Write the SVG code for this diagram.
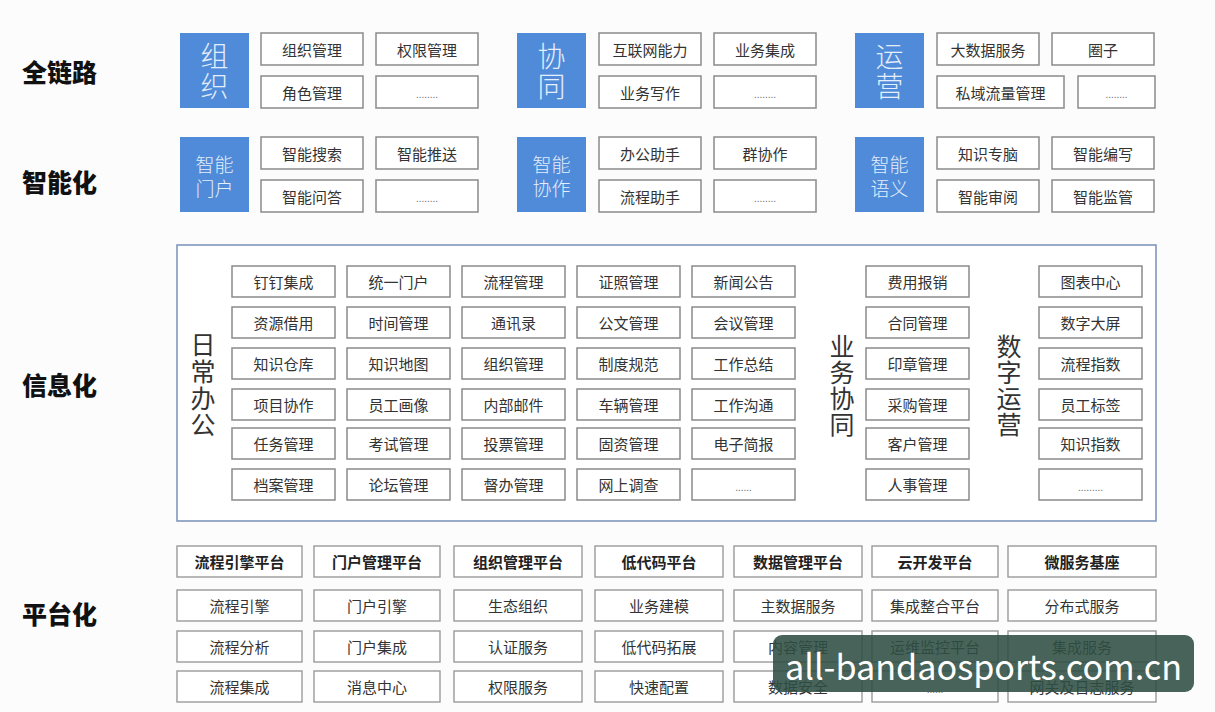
<svg xmlns="http://www.w3.org/2000/svg" width="1215" height="712" viewBox="0 0 1215 712">
<style>
text{font-family:"Noto Sans CJK SC","Noto Sans",sans-serif;text-anchor:middle;dominant-baseline:central}
.lbl{font-size:25px;font-weight:900;fill:#111;text-anchor:start}
.blue{fill:#4f8bd8}
.bt1{font-size:28px;fill:#e4eefc;font-weight:300}
.bt2{font-size:19px;fill:#e4eefc;font-weight:300}
.box{fill:#fff;stroke:#8a8a8a;stroke-width:1.5}
.pbox{fill:#fff;stroke:#9a9a9a;stroke-width:1.4}
.t{font-size:15px;fill:#333}
.tb{font-size:15px;fill:#222;font-weight:700}
.dots{font-size:10px;fill:#777}
.vt{font-size:25px;fill:#333}
.frame{fill:#fff;stroke:#8196bd;stroke-width:1.6}
</style>
<rect width="1215" height="712" fill="#fcfcfc"/>
<g id="labels">
<text class="lbl" x="22" y="71">全链路</text>
<text class="lbl" x="22" y="181">智能化</text>
<text class="lbl" x="22" y="384">信息化</text>
<text class="lbl" x="22" y="613">平台化</text>
</g>
<g id="connectors"></g>
<!-- 全链路 -->
<g id="zuzhi">
<rect class="blue" x="180" y="33" width="69" height="75"/>
<text class="bt1" x="214.5" y="55">组</text><text class="bt1" x="214.5" y="85">织</text>
<rect class="box" x="261" y="33" width="102" height="32"/><text class="t" x="312" y="49">组织管理</text>
<rect class="box" x="376" y="33" width="102" height="32"/><text class="t" x="427" y="49">权限管理</text>
<rect class="box" x="261" y="76" width="102" height="32"/><text class="t" x="312" y="92">角色管理</text>
<rect class="box" x="376" y="76" width="102" height="32"/><text class="dots" x="427" y="93">........</text>
</g>
<g id="xietong">
<rect class="blue" x="517" y="33" width="69" height="75"/>
<text class="bt1" x="551.5" y="55">协</text><text class="bt1" x="551.5" y="85">同</text>
<rect class="box" x="599" y="33" width="102" height="32"/><text class="t" x="650" y="49">互联网能力</text>
<rect class="box" x="714" y="33" width="102" height="32"/><text class="t" x="765" y="49">业务集成</text>
<rect class="box" x="599" y="76" width="102" height="32"/><text class="t" x="650" y="92">业务写作</text>
<rect class="box" x="714" y="76" width="102" height="32"/><text class="dots" x="765" y="93">........</text>
</g>
<g id="yunying">
<rect class="blue" x="855" y="33" width="69" height="75"/>
<text class="bt1" x="889.5" y="55">运</text><text class="bt1" x="889.5" y="85">营</text>
<rect class="box" x="937" y="33" width="102" height="32"/><text class="t" x="988" y="49">大数据服务</text>
<rect class="box" x="1052" y="33" width="102" height="32"/><text class="t" x="1103" y="49">圈子</text>
<rect class="box" x="937" y="76" width="127" height="32"/><text class="t" x="1000.5" y="92">私域流量管理</text>
<rect class="box" x="1078" y="76" width="77" height="32"/><text class="dots" x="1116.5" y="93">........</text>
</g>
<!-- 智能化 -->
<g id="zhinengmenhu">
<rect class="blue" x="180" y="137" width="69" height="75"/>
<text class="bt2" x="214.5" y="163">智能</text><text class="bt2" x="214.5" y="187">门户</text>
<rect class="box" x="261" y="137" width="102" height="32"/><text class="t" x="312" y="153">智能搜索</text>
<rect class="box" x="376" y="137" width="102" height="32"/><text class="t" x="427" y="153">智能推送</text>
<rect class="box" x="261" y="180" width="102" height="32"/><text class="t" x="312" y="196">智能问答</text>
<rect class="box" x="376" y="180" width="102" height="32"/><text class="dots" x="427" y="197">........</text>
</g>
<g id="zhinengxiezuo">
<rect class="blue" x="517" y="137" width="69" height="75"/>
<text class="bt2" x="551.5" y="163">智能</text><text class="bt2" x="551.5" y="187">协作</text>
<rect class="box" x="599" y="137" width="102" height="32"/><text class="t" x="650" y="153">办公助手</text>
<rect class="box" x="714" y="137" width="102" height="32"/><text class="t" x="765" y="153">群协作</text>
<rect class="box" x="599" y="180" width="102" height="32"/><text class="t" x="650" y="196">流程助手</text>
<rect class="box" x="714" y="180" width="102" height="32"/><text class="dots" x="765" y="197">........</text>
</g>
<g id="zhinengyuyi">
<rect class="blue" x="855" y="137" width="69" height="75"/>
<text class="bt2" x="889.5" y="163">智能</text><text class="bt2" x="889.5" y="187">语义</text>
<rect class="box" x="937" y="137" width="102" height="32"/><text class="t" x="988" y="153">知识专脑</text>
<rect class="box" x="1052" y="137" width="102" height="32"/><text class="t" x="1103" y="153">智能编写</text>
<rect class="box" x="937" y="180" width="102" height="32"/><text class="t" x="988" y="196">智能审阅</text>
<rect class="box" x="1052" y="180" width="102" height="32"/><text class="t" x="1103" y="196">智能监管</text>
</g>
<!-- 信息化 -->
<g id="xinxihua">
<rect class="frame" x="177" y="245" width="979" height="276"/>
<g id="richangbangong">
<text class="vt" x="203" y="343">日</text><text class="vt" x="203" y="370">常</text><text class="vt" x="203" y="397">办</text><text class="vt" x="203" y="423">公</text>
<rect class="box" x="232" y="266" width="103" height="31"/><text class="t" x="283.5" y="281.5">钉钉集成</text>
<rect class="box" x="347" y="266" width="103" height="31"/><text class="t" x="398.5" y="281.5">统一门户</text>
<rect class="box" x="462" y="266" width="103" height="31"/><text class="t" x="513.5" y="281.5">流程管理</text>
<rect class="box" x="577" y="266" width="103" height="31"/><text class="t" x="628.5" y="281.5">证照管理</text>
<rect class="box" x="692" y="266" width="103" height="31"/><text class="t" x="743.5" y="281.5">新闻公告</text>
<rect class="box" x="232" y="307" width="103" height="31"/><text class="t" x="283.5" y="322.5">资源借用</text>
<rect class="box" x="347" y="307" width="103" height="31"/><text class="t" x="398.5" y="322.5">时间管理</text>
<rect class="box" x="462" y="307" width="103" height="31"/><text class="t" x="513.5" y="322.5">通讯录</text>
<rect class="box" x="577" y="307" width="103" height="31"/><text class="t" x="628.5" y="322.5">公文管理</text>
<rect class="box" x="692" y="307" width="103" height="31"/><text class="t" x="743.5" y="322.5">会议管理</text>
<rect class="box" x="232" y="348" width="103" height="31"/><text class="t" x="283.5" y="363.5">知识仓库</text>
<rect class="box" x="347" y="348" width="103" height="31"/><text class="t" x="398.5" y="363.5">知识地图</text>
<rect class="box" x="462" y="348" width="103" height="31"/><text class="t" x="513.5" y="363.5">组织管理</text>
<rect class="box" x="577" y="348" width="103" height="31"/><text class="t" x="628.5" y="363.5">制度规范</text>
<rect class="box" x="692" y="348" width="103" height="31"/><text class="t" x="743.5" y="363.5">工作总结</text>
<rect class="box" x="232" y="389" width="103" height="31"/><text class="t" x="283.5" y="404.5">项目协作</text>
<rect class="box" x="347" y="389" width="103" height="31"/><text class="t" x="398.5" y="404.5">员工画像</text>
<rect class="box" x="462" y="389" width="103" height="31"/><text class="t" x="513.5" y="404.5">内部邮件</text>
<rect class="box" x="577" y="389" width="103" height="31"/><text class="t" x="628.5" y="404.5">车辆管理</text>
<rect class="box" x="692" y="389" width="103" height="31"/><text class="t" x="743.5" y="404.5">工作沟通</text>
<rect class="box" x="232" y="428" width="103" height="31"/><text class="t" x="283.5" y="443.5">任务管理</text>
<rect class="box" x="347" y="428" width="103" height="31"/><text class="t" x="398.5" y="443.5">考试管理</text>
<rect class="box" x="462" y="428" width="103" height="31"/><text class="t" x="513.5" y="443.5">投票管理</text>
<rect class="box" x="577" y="428" width="103" height="31"/><text class="t" x="628.5" y="443.5">固资管理</text>
<rect class="box" x="692" y="428" width="103" height="31"/><text class="t" x="743.5" y="443.5">电子简报</text>
<rect class="box" x="232" y="469" width="103" height="31"/><text class="t" x="283.5" y="484.5">档案管理</text>
<rect class="box" x="347" y="469" width="103" height="31"/><text class="t" x="398.5" y="484.5">论坛管理</text>
<rect class="box" x="462" y="469" width="103" height="31"/><text class="t" x="513.5" y="484.5">督办管理</text>
<rect class="box" x="577" y="469" width="103" height="31"/><text class="t" x="628.5" y="484.5">网上调查</text>
<rect class="box" x="692" y="469" width="103" height="31"/><text class="dots" x="743.5" y="486">......</text>
</g>
<g id="yewuxietong">
<text class="vt" x="842" y="345">业</text><text class="vt" x="842" y="371">务</text><text class="vt" x="842" y="397">协</text><text class="vt" x="842" y="423">同</text>
<rect class="box" x="866" y="266" width="103" height="31"/><text class="t" x="917.5" y="281.5">费用报销</text>
<rect class="box" x="866" y="307" width="103" height="31"/><text class="t" x="917.5" y="322.5">合同管理</text>
<rect class="box" x="866" y="348" width="103" height="31"/><text class="t" x="917.5" y="363.5">印章管理</text>
<rect class="box" x="866" y="389" width="103" height="31"/><text class="t" x="917.5" y="404.5">采购管理</text>
<rect class="box" x="866" y="428" width="103" height="31"/><text class="t" x="917.5" y="443.5">客户管理</text>
<rect class="box" x="866" y="469" width="103" height="31"/><text class="t" x="917.5" y="484.5">人事管理</text>
</g>
<g id="shuziyunying">
<text class="vt" x="1009" y="345">数</text><text class="vt" x="1009" y="371">字</text><text class="vt" x="1009" y="397">运</text><text class="vt" x="1009" y="423">营</text>
<rect class="box" x="1039" y="266" width="103" height="31"/><text class="t" x="1090.5" y="281.5">图表中心</text>
<rect class="box" x="1039" y="307" width="103" height="31"/><text class="t" x="1090.5" y="322.5">数字大屏</text>
<rect class="box" x="1039" y="348" width="103" height="31"/><text class="t" x="1090.5" y="363.5">流程指数</text>
<rect class="box" x="1039" y="389" width="103" height="31"/><text class="t" x="1090.5" y="404.5">员工标签</text>
<rect class="box" x="1039" y="428" width="103" height="31"/><text class="t" x="1090.5" y="443.5">知识指数</text>
<rect class="box" x="1039" y="469" width="103" height="31"/><text class="dots" x="1090.5" y="486">.........</text>
</g>
</g>
<!-- 平台化 -->
<g id="pingtaihua">
<g id="liucheng">
<rect class="pbox" x="177" y="546" width="125" height="31"/><text class="tb" x="239.5" y="561.5">流程引擎平台</text>
<rect class="pbox" x="177" y="590" width="125" height="31"/><text class="t" x="239.5" y="605.5">流程引擎</text>
<rect class="pbox" x="177" y="631" width="125" height="31"/><text class="t" x="239.5" y="646.5">流程分析</text>
<rect class="pbox" x="177" y="671" width="125" height="31"/><text class="t" x="239.5" y="686.5">流程集成</text>
</g>
<g id="menhu">
<rect class="pbox" x="314" y="546" width="126" height="31"/><text class="tb" x="377" y="561.5">门户管理平台</text>
<rect class="pbox" x="314" y="590" width="126" height="31"/><text class="t" x="377" y="605.5">门户引擎</text>
<rect class="pbox" x="314" y="631" width="126" height="31"/><text class="t" x="377" y="646.5">门户集成</text>
<rect class="pbox" x="314" y="671" width="126" height="31"/><text class="t" x="377" y="686.5">消息中心</text>
</g>
<g id="zuzhiguanli">
<rect class="pbox" x="454" y="546" width="128" height="31"/><text class="tb" x="518" y="561.5">组织管理平台</text>
<rect class="pbox" x="454" y="590" width="128" height="31"/><text class="t" x="518" y="605.5">生态组织</text>
<rect class="pbox" x="454" y="631" width="128" height="31"/><text class="t" x="518" y="646.5">认证服务</text>
<rect class="pbox" x="454" y="671" width="128" height="31"/><text class="t" x="518" y="686.5">权限服务</text>
</g>
<g id="didaima">
<rect class="pbox" x="595" y="546" width="128" height="31"/><text class="tb" x="659" y="561.5">低代码平台</text>
<rect class="pbox" x="595" y="590" width="128" height="31"/><text class="t" x="659" y="605.5">业务建模</text>
<rect class="pbox" x="595" y="631" width="128" height="31"/><text class="t" x="659" y="646.5">低代码拓展</text>
<rect class="pbox" x="595" y="671" width="128" height="31"/><text class="t" x="659" y="686.5">快速配置</text>
</g>
<g id="shujuguanli">
<rect class="pbox" x="734" y="546" width="128" height="31"/><text class="tb" x="798" y="561.5">数据管理平台</text>
<rect class="pbox" x="734" y="590" width="128" height="31"/><text class="t" x="798" y="605.5">主数据服务</text>
<rect class="pbox" x="734" y="631" width="128" height="31"/><text class="t" x="798" y="646.5">内容管理</text>
<rect class="pbox" x="734" y="671" width="128" height="31"/><text class="t" x="798" y="686.5">数据安全</text>
</g>
<g id="yunkaifa">
<rect class="pbox" x="872" y="546" width="126" height="31"/><text class="tb" x="935" y="561.5">云开发平台</text>
<rect class="pbox" x="872" y="590" width="126" height="31"/><text class="t" x="935" y="605.5">集成整合平台</text>
<rect class="pbox" x="872" y="631" width="126" height="31"/><text class="t" x="935" y="646.5">运维监控平台</text>
<rect class="pbox" x="872" y="671" width="126" height="31"/><text class="dots" x="935" y="688">......</text>
</g>
<g id="weifuwu">
<rect class="pbox" x="1008" y="546" width="148" height="31"/><text class="tb" x="1082" y="561.5">微服务基座</text>
<rect class="pbox" x="1008" y="590" width="148" height="31"/><text class="t" x="1082" y="605.5">分布式服务</text>
<rect class="pbox" x="1008" y="631" width="148" height="31"/><text class="t" x="1082" y="646.5">集成服务</text>
<rect class="pbox" x="1008" y="671" width="148" height="31"/><text class="t" x="1082" y="686.5">网关及日志服务</text>
</g>
</g>
<g id="watermark">
<rect x="773" y="635" width="421" height="57" rx="9" fill="#2f4f43" fill-opacity="0.88"/>
<text x="983.5" y="664" font-family="'Noto Sans',sans-serif" font-size="35" fill="#ffffff" textLength="397" lengthAdjust="spacingAndGlyphs">all-bandaosports.com.cn</text>
</g>
</svg>
